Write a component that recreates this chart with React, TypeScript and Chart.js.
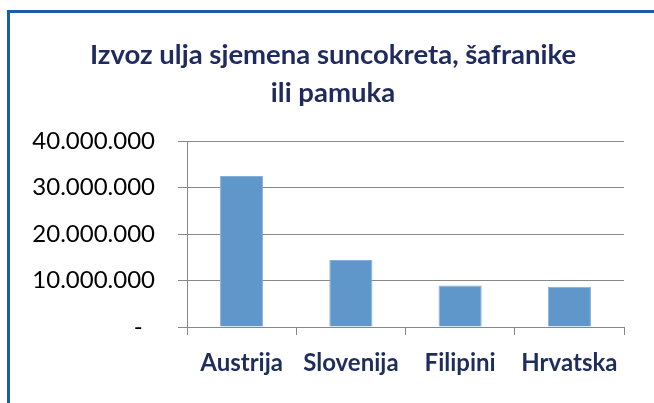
import React, { useEffect, useRef } from "react";
import { Chart, registerables } from "chart.js";

Chart.register(...registerables);

const categories = ["Austrija", "Slovenija", "Filipini", "Hrvatska"];
const exportValues = [32500000, 14400000, 8950000, 8650000];
const yTickValues = [0, 10000000, 20000000, 30000000, 40000000];
const yTickLabels = ["-  ", "10.000.000", "20.000.000", "30.000.000", "40.000.000"];
const titleLines = ["Izvoz ulja sjemena suncokreta, šafranike", "ili pamuka"];

const titlePlugin = {
  id: "customTitle",
  afterDraw(chart: any) {
    const ctx = chart.ctx;
    ctx.save();
    ctx.fillStyle = "#1F2A5E";
    ctx.font = "bold 27.5px Lato";
    ctx.textAlign = "center";
    ctx.textBaseline = "middle";
    titleLines.forEach((line, i) => {
      ctx.fillText(line, 333, 55 + i * 38);
    });
    ctx.restore();
  },
};

export default function App() {
  const ref = useRef<HTMLCanvasElement>(null);
  useEffect(() => {
    const canvas = ref.current!;
    const chart = new Chart(canvas, {
      type: "bar",
      data: {
        labels: categories,
        datasets: [
          {
            data: exportValues,
            backgroundColor: "#6097CB",
            borderColor: "#86AEDA",
            borderWidth: 1,
            barPercentage: 0.395,
            categoryPercentage: 1,
          },
        ],
      },
      plugins: [titlePlugin],
      options: {
        responsive: false,
        animation: false,
        devicePixelRatio: 1,
        layout: { padding: { left: 0, right: 30, top: 141, bottom: 0 } },
        plugins: {
          legend: { display: false },
          tooltip: { enabled: false },
          title: { display: false },
        },
        scales: {
          x: {
            grid: {
              drawOnChartArea: false,
              drawTicks: true,
              tickLength: 8,
              color: "#888888",
              offset: true,
            },
            border: { color: "#888888", width: 1 },
            ticks: {
              color: "#1F2D5C",
              font: { family: "Lato", size: 24, weight: "bold" },
              padding: 14,
            },
            afterFit: (s: any) => {
              s.height = 76;
            },
          },
          y: {
            min: 0,
            max: 40000000,
            afterBuildTicks: (s: any) => {
              s.ticks = yTickValues.map((v) => ({ value: v }));
            },
            grid: { color: "#888888", tickLength: 9, drawTicks: true },
            border: { color: "#888888", width: 1 },
            ticks: {
              color: "#000000",
              font: { family: "Lato", size: 24 },
              padding: 23,
              callback: (v: any) => yTickLabels[yTickValues.indexOf(Number(v))],
            },
            afterFit: (s: any) => {
              s.width = 187;
            },
          },
        },
      },
    });
    return () => chart.destroy();
  }, []);
  return (
    <div style={{ position: "absolute", left: 0, top: 0, width: 654, height: 403, background: "#fff", overflow: "hidden" }}>
      <div
        style={{
          position: "absolute",
          left: 7,
          top: 10,
          width: 700,
          height: 450,
          borderTop: "3px solid #1D5CAC",
          borderLeft: "3px solid #1D5CAC",
        }}
      />
      <canvas ref={ref} width={654} height={403} style={{ position: "absolute", left: 0, top: 0, width: 654, height: 403 }} />
    </div>
  );
}
